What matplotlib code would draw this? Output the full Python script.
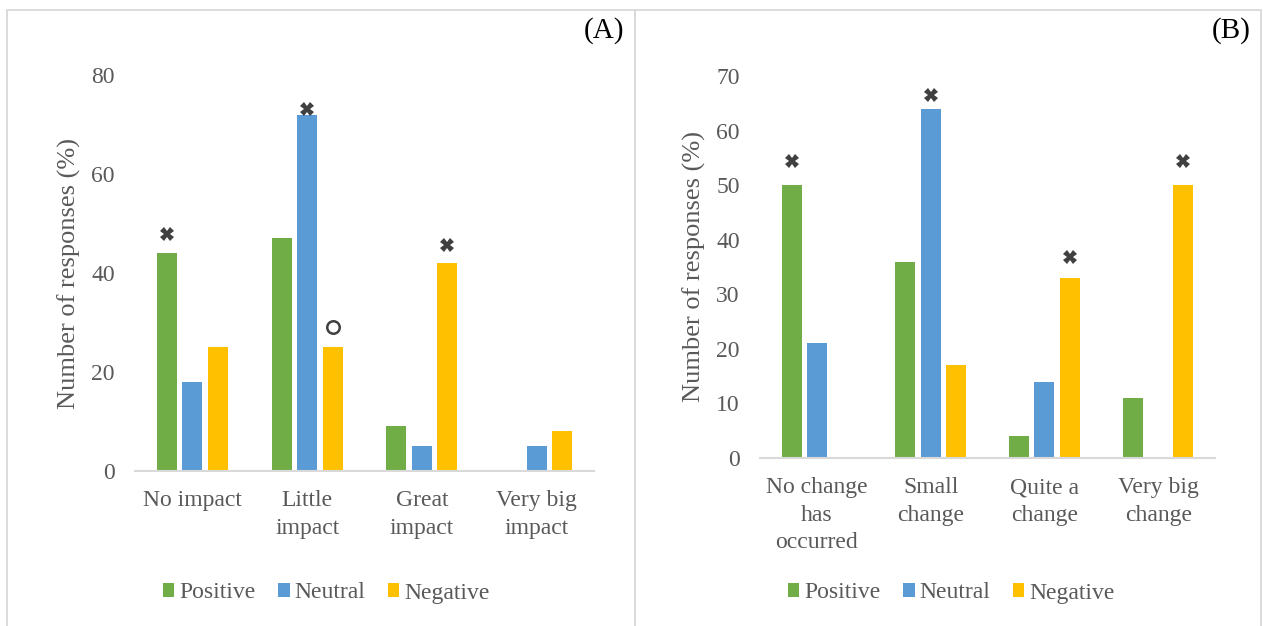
import matplotlib
matplotlib.use("Agg")
import matplotlib.pyplot as plt
from matplotlib.patches import Patch, Rectangle
import numpy as np

# ---- data ----
series = ["Positive", "Neutral", "Negative"]
colors = ["#70AD47", "#5B9BD5", "#FFC000"]

cats_a = ["No impact", "Little\nimpact", "Great\nimpact", "Very big\nimpact"]
positive_a = [44, 47, 9, 0]
neutral_a = [18, 72, 5, 5]
negative_a = [25, 25, 42, 8]
# significance markers: (category index, series index, y level, kind)
marks_a = [(0, 0, 47.9, "x"), (1, 1, 73.1, "x"), (1, 2, 29.1, "o"), (2, 2, 45.7, "x")]

cats_b = ["No change\nhas\noccurred", "Small\nchange", "Quite a\nchange", "Very big\nchange"]
positive_b = [50, 36, 4, 11]
neutral_b = [21, 64, 14, 0]
negative_b = [0, 17, 33, 50]
marks_b = [(0, 0, 54.4, "x"), (1, 1, 66.5, "x"), (2, 2, 36.8, "x"), (3, 2, 54.4, "x")]

W, H = 1263, 626
FONT = "Liberation Serif"
GREY = "#595959"
FS = 17

fig = plt.figure(figsize=(W / 100, H / 100), dpi=100)
fig.patch.set_facecolor("white")

# panel frames
for x0, x1 in [(7, 635), (635, 1261)]:
    fig.patches.append(Rectangle((x0 / W, -0.05), (x1 - x0) / W, 1.05 - 10 / H,
                                 transform=fig.transFigure, fill=False,
                                 edgecolor="#D9D9D9", linewidth=1.3))


def add_axes_px(x0, x1, y_top, y_bot):
    return fig.add_axes([x0 / W, 1 - y_bot / H, (x1 - x0) / W, (y_bot - y_top) / H])


def draw_panel(ax, cats, values, marks, ymax, ystep):
    x = np.arange(len(cats))
    width = 0.174
    step = 0.222
    for i, (vals, col) in enumerate(zip(values, colors)):
        ax.bar(x + (i - 1) * step, vals, width=width, color=col, zorder=2)
    for ci, si, yv, kind in marks:
        xp = ci + (si - 1) * step
        if kind == "x":
            ax.plot(xp, yv, marker="X", ms=10, color="#404040", mew=0, ls="none",
                    clip_on=False, zorder=3)
        else:
            ax.plot(xp, yv, marker="o", ms=9, mfc="none", mec="#404040", mew=1.8,
                    ls="none", clip_on=False, zorder=3)
    ax.set_xlim(-0.5, len(cats) - 0.5)
    ax.set_ylim(0, ymax)
    ax.set_yticks(np.arange(0, ymax + 1, ystep))
    ax.set_xticks(x)
    ax.set_xticklabels(cats, fontfamily=FONT, fontsize=FS, color=GREY, linespacing=1.38)
    for lab in ax.get_yticklabels():
        lab.set_fontfamily(FONT)
        lab.set_fontsize(FS)
        lab.set_color(GREY)
    ax.tick_params(axis="both", length=0)
    ax.tick_params(axis="y", pad=14.5)
    ax.tick_params(axis="x", pad=14)
    for s in ["top", "right", "left"]:
        ax.spines[s].set_visible(False)
    ax.spines["bottom"].set_color("#D9D9D9")
    ax.spines["bottom"].set_linewidth(1.5)
    ax.set_facecolor("none")


ax_a = add_axes_px(135, 594, 75, 471)
draw_panel(ax_a, cats_a, [positive_a, neutral_a, negative_a], marks_a, 80, 20)
ax_b = add_axes_px(760, 1215, 76, 458)
draw_panel(ax_b, cats_b, [positive_b, neutral_b, negative_b], marks_b, 70, 10)

for xc, yc in [(69, 273), (694, 267)]:
    fig.text(xc / W, 1 - (yc / H), "Number of responses (%)", rotation=90,
             ha="center", va="center", fontfamily=FONT, fontsize=19, color=GREY)

fig.text(624 / W, 1 - 31 / H, "(A)", ha="right", va="center", fontfamily=FONT,
         fontsize=21, color="black")
fig.text(1251 / W, 1 - 31 / H, "(B)", ha="right", va="center", fontfamily=FONT,
         fontsize=21, color="black")

handles = [Patch(facecolor=c, edgecolor="none", label=s) for s, c in zip(series, colors)]
for xc in (326, 951):
    leg = fig.legend(handles=handles, loc="center", bbox_to_anchor=(xc / W, 1 - 593 / H),
                     ncol=3, frameon=False, handlelength=0.5, handleheight=0.5,
                     handletextpad=0.2, columnspacing=0.95,
                     prop={"family": FONT, "size": FS})
    for t in leg.get_texts():
        t.set_color(GREY)

fig.savefig("out.png", dpi=100)
